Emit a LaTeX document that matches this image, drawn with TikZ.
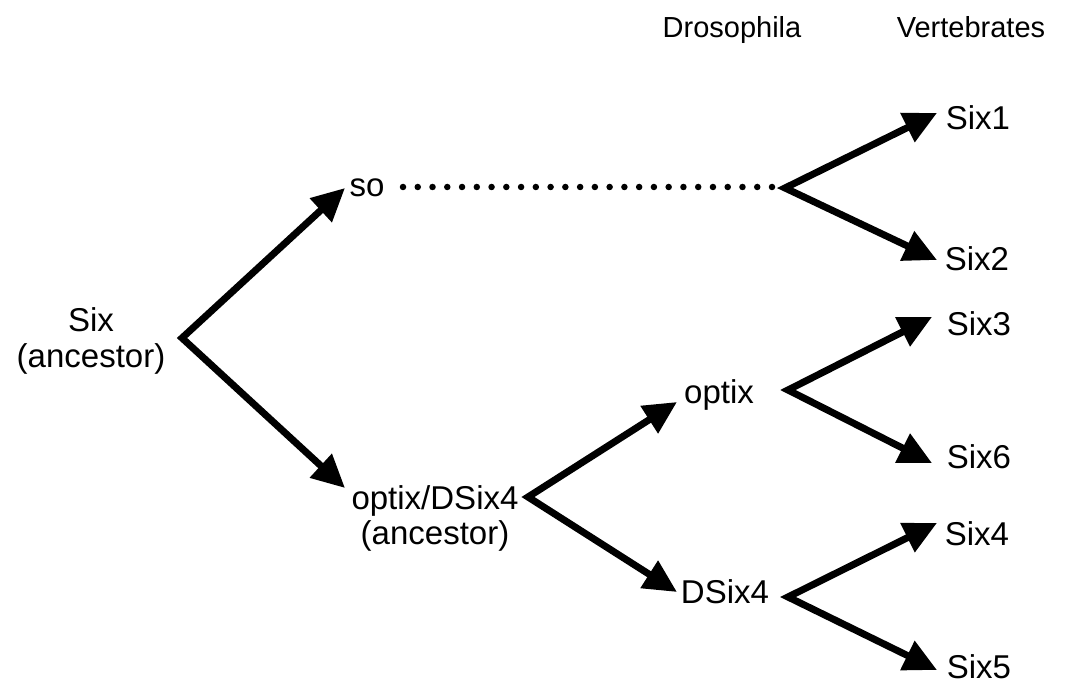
\documentclass[tikz,border=0pt]{standalone}
\usepackage{fontspec}
\setmainfont{Liberation Sans}
\usetikzlibrary{arrows.meta}
\begin{document}
\begin{tikzpicture}[x=1pt,y=-1pt,
  lbl/.style={inner sep=0pt, anchor=base, font=\fontsize{33}{36}\selectfont},
  hdr/.style={inner sep=0pt, anchor=base, font=\fontsize{29}{32}\selectfont},
  fork/.style={line width=7pt, line join=miter, miter limit=10,
    {Triangle[length=33pt,width=31pt]}-{Triangle[length=33pt,width=31pt]}},
  dots/.style={line width=6.5pt, line cap=round, dash pattern=on 0pt off 14.76pt}]
\useasboundingbox (0,0) rectangle (1066,687);
% headers
\node[hdr] (dros) at (732,38) {Drosophila};
\node[hdr] (vert) at (971,38) {Vertebrates};
% labels
\node[inner sep=0pt, align=center, font=\fontsize{33}{36}\selectfont] (six) at (91,341) {Six\\(ancestor)};
\node[lbl] (so) at (367,197) {so};
\node[inner sep=0pt, align=center, font=\fontsize{33}{35}\selectfont] (anc) at (435,518) {optix/DSix4\\(ancestor)};
\node[lbl] (optix) at (719,403) {optix};
\node[lbl] (dsix4) at (725,603) {DSix4};
\node[lbl] (s1) at (978,130) {Six1};
\node[lbl] (s2) at (977,270) {Six2};
\node[lbl] (s3) at (979,335) {Six3};
\node[lbl] (s6) at (979,468) {Six6};
\node[lbl] (s4) at (977,545) {Six4};
\node[lbl] (s5) at (979,678) {Six5};
% fork points
\coordinate (a1) at (182,338);
\coordinate (a2) at (785,188);
\coordinate (a3) at (528,497);
\coordinate (a4) at (788,390);
\coordinate (a5) at (788,597);
\coordinate (t1u) at (345,188);
\coordinate (t1d) at (345,488);
\coordinate (t2u) at (937,113);
\coordinate (t2d) at (937,260);
\coordinate (t3u) at (677,402);
\coordinate (t3d) at (677,592);
\coordinate (t4u) at (932,317);
\coordinate (t4d) at (932,463);
\coordinate (t5u) at (937,523);
\coordinate (t5d) at (937,670);
\coordinate (d0) at (403,187);
\coordinate (d1) at (773,187);
% connectors
\draw[fork] (t1u) -- (a1) -- (t1d);
\draw[fork] (t2u) -- (a2) -- (t2d);
\draw[fork] (t3u) -- (a3) -- (t3d);
\draw[fork] (t4u) -- (a4) -- (t4d);
\draw[fork] (t5u) -- (a5) -- (t5d);
\draw[dots] (d0) -- (d1);
\end{tikzpicture}
\end{document}
